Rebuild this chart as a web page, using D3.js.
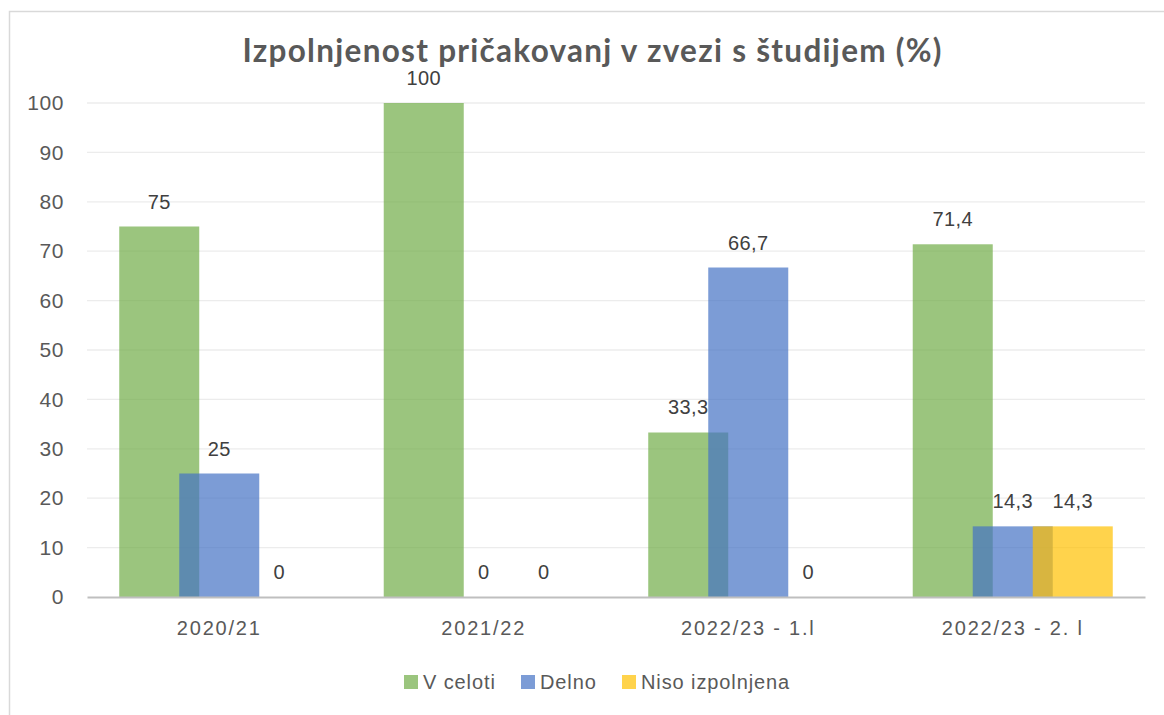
<!DOCTYPE html>
<html><head><meta charset="utf-8">
<script src="https://cdn.jsdelivr.net/npm/d3@7"></script>
<style>body{margin:0;background:#fff;} svg{display:block;}</style>
</head><body>
<script>
const categories = ["2020/21", "2021/22", "2022/23 - 1.l", "2022/23 - 2. l"];
const seriesNames = ["V celoti", "Delno", "Niso izpolnjena"];
const vCeloti = [75, 100, 33.3, 71.4];
const delno = [25, 0, 66.7, 14.3];
const nisoIzpolnjena = [0, 0, 0, 14.3];
const yTicks = [0, 10, 20, 30, 40, 50, 60, 70, 80, 90, 100];
const colors = ["#70AD47", "#4472C4", "#FFC000"];
const title = "Izpolnjenost pričakovanj v zvezi s študijem (%)";

(function () {
const series = [vCeloti, delno, nisoIzpolnjena];
const W = 1164, H = 715;
const svg = d3.select("body").append("svg").attr("width", W).attr("height", H);
const font = "'Liberation Sans', Arial, sans-serif";

svg.append("rect").attr("x", 9.5).attr("y", 11.5).attr("width", 1180).attr("height", 720)
  .attr("fill", "#fff").attr("stroke", "#d9d9d9").attr("stroke-width", 1.5);

const pL = 87, pR = 1145, pT = 103, pB = 597;
const x = d3.scaleBand().domain(categories).range([pL, pR]);
const y = d3.scaleLinear().domain([0, 100]).range([pB, pT]);

svg.append("g").selectAll("line").data(yTicks.filter(d => d > 0)).join("line")
  .attr("x1", pL).attr("x2", pR).attr("y1", d => y(d)).attr("y2", d => y(d))
  .attr("stroke", "#ececec").attr("stroke-width", 1.3);

const yAxis = d3.axisLeft(y).tickValues(yTicks).tickSize(0).tickPadding(23);
const yg = svg.append("g").attr("transform", `translate(${pL},0)`).call(yAxis);
yg.select(".domain").remove();
yg.selectAll("text").attr("font-family", font).attr("font-size", 21)
  .attr("letter-spacing", 0.6).attr("fill", "#595959");

const bw = x.bandwidth() * 0.3025;
const step = bw * 0.75;
const groupW = bw + step * (series.length - 1);
const bx = (ci, si) => x(categories[ci]) + x.bandwidth() / 2 - groupW / 2 + si * step;

series.forEach((vals, si) => {
  svg.append("g").selectAll("rect").data(vals).join("rect")
    .attr("x", (d, i) => bx(i, si)).attr("width", bw)
    .attr("y", d => y(d)).attr("height", d => y(0) - y(d))
    .attr("fill", colors[si]).attr("fill-opacity", 0.7);
});

series.forEach((vals, si) => {
  svg.append("g").selectAll("text").data(vals).join("text")
    .attr("x", (d, i) => bx(i, si) + bw / 2).attr("y", d => y(d) - 18)
    .attr("text-anchor", "middle").attr("font-family", font).attr("font-size", 20)
    .attr("letter-spacing", 0.4)
    .attr("fill", "#404040").text(d => String(d).replace(".", ","));
});

const xAxis = d3.axisBottom(x).tickSize(0).tickPadding(24);
const xg = svg.append("g").attr("transform", `translate(0,${pB})`).call(xAxis);
xg.select(".domain").attr("stroke", "#bfbfbf").attr("stroke-width", 2);
xg.selectAll("text").attr("font-family", font).attr("font-size", 20)
  .attr("letter-spacing", 1.8).attr("fill", "#595959");

svg.append("text").attr("x", 592).attr("y", 62).attr("text-anchor", "middle")
  .attr("font-family", "Lato, 'Open Sans', sans-serif").attr("font-weight", 700)
  .attr("font-size", 31.5).attr("fill", "#595959")
  .attr("textLength", 699).attr("lengthAdjust", "spacing").text(title);

const legX = [404, 521, 622];
const lg = svg.append("g");
seriesNames.forEach((n, i) => {
  lg.append("rect").attr("x", legX[i]).attr("y", 675).attr("width", 14).attr("height", 14)
    .attr("fill", colors[i]).attr("fill-opacity", 0.7);
  lg.append("text").attr("x", legX[i] + 19).attr("y", 689).attr("font-family", font)
    .attr("font-size", 20).attr("letter-spacing", 0.9).attr("fill", "#595959").text(n);
});
})();
</script>
</body></html>
